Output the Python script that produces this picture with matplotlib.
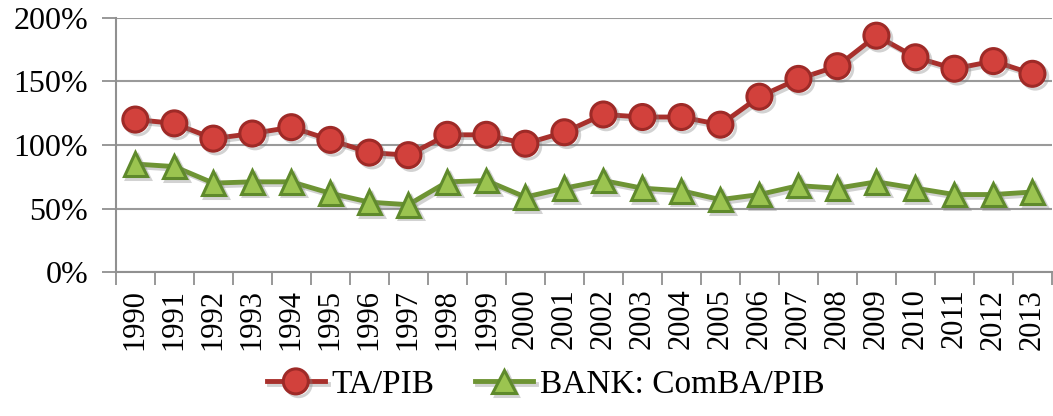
import matplotlib
matplotlib.use("Agg")
import matplotlib.pyplot as plt
import matplotlib.patheffects as pe
import numpy as np

years = [str(y) for y in range(1990, 2014)]
ta_pib = [120, 117, 105, 109, 114, 104, 94, 92, 108, 108, 101, 110,
          124, 122, 122, 116, 138, 152, 162, 186, 169, 160, 166, 156]
bank_pib = [85, 83, 70, 71, 71, 62, 55, 53, 71, 72, 59, 66,
            72, 66, 64, 57, 61, 68, 66, 71, 66, 61, 61, 63]

plt.rcParams['font.family'] = ['Liberation Serif', 'DejaVu Serif']

fig = plt.figure(figsize=(10.53, 4.16), dpi=100)
ax = fig.add_axes([0.110, 0.346, 0.889, 0.611])

x = np.arange(len(years))
shadow = [pe.SimpleLineShadow(offset=(2, -2), shadow_color='gray', alpha=0.35), pe.Normal()]

ax.plot(x, ta_pib, color='#A8302C', lw=3.5, marker='o', ms=18,
        mfc='#D2413C', mec='#9E2A27', mew=2.2, label='TA/PIB',
        path_effects=shadow, zorder=3)
ax.plot(x, bank_pib, color='#6E9434', lw=3.5, marker='^', ms=17,
        mfc='#9BC450', mec='#5F8A2C', mew=2.2, label='BANK: ComBA/PIB',
        path_effects=shadow, zorder=3)

ax.set_xlim(-0.5, len(years) - 0.5)
ax.set_ylim(0, 200)
ax.set_yticks([0, 50, 100, 150, 200])
ax.set_yticklabels(['0%', '50%', '100%', '150%', '200%'], fontsize=23)
ax.set_xticks(x)
ax.set_xticklabels(years, rotation=90, fontsize=22)
ax.set_xticks(np.arange(-0.5, len(years)), minor=True)
ax.tick_params(axis='x', which='major', length=0, pad=12)
ax.tick_params(axis='x', which='minor', length=9, width=1.3, color='#909090', direction='out')
ax.tick_params(axis='y', length=10, width=1.3, color='#909090', pad=10)

ax.grid(axis='y', color='#9A9A9A', lw=1.5)
ax.set_axisbelow(True)
for s in ['top', 'right']:
    ax.spines[s].set_visible(False)
for s in ['left', 'bottom']:
    ax.spines[s].set_color('#909090')
    ax.spines[s].set_linewidth(1.5)

fig.legend(loc='center', bbox_to_anchor=(0.518, 0.075), ncol=2, frameon=False,
           fontsize=24, handlelength=1.75, columnspacing=1.2, handletextpad=0.2)

fig.savefig('out.png', dpi=100)
